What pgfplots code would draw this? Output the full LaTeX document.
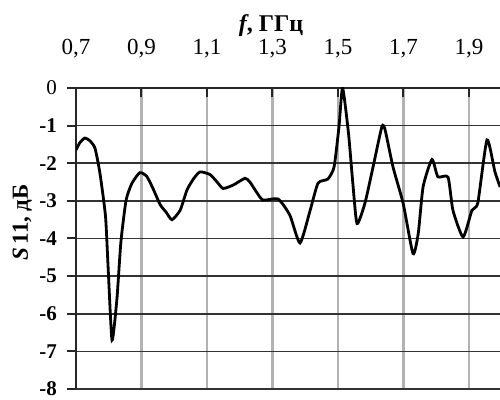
\documentclass[border=0pt]{standalone}
\usepackage{fontspec}
\setmainfont{Liberation Serif}
\usepackage{pgfplots}
\pgfplotsset{compat=1.18}
\usetikzlibrary{calc}
\begin{document}
\begin{tikzpicture}
\begin{axis}[
  name=ax, scale only axis, width=424pt, height=301pt,
  xmin=0.7, xmax=1.9947, ymin=-8, ymax=0,
  axis x line=top, axis y line=left,
  axis line style={-, black!85, line width=2pt},
  xtick={0.7,0.9,1.1,1.3,1.5,1.7,1.9},
  xticklabels={{0,7},{0,9},{1,1},{1,3},{1,5},{1,7},{1,9}},
  ytick={-8,-7,-6,-5,-4,-3,-2,-1,0},
  yticklabels={-8,-7,-6,-5,-4,-3,-2,-1,{\mdseries 0}},
  xmajorgrids, ymajorgrids,
  major x grid style={draw=black!30, line width=2.6pt},
  major y grid style={draw=black!80, line width=1.6pt},
  xtick align=inside, ytick align=outside,
  major tick length=9pt,
  every tick/.style={black!85, line width=2pt},
  xticklabel style={font=\fontsize{23}{23}\selectfont, anchor=base, yshift=33pt, inner sep=0pt},
  yticklabel style={font=\bfseries\fontsize{21}{21}\selectfont, anchor=east, inner sep=0pt, xshift=-10pt, yshift=0pt},
]
\addplot[black, line width=2.8pt, smooth, tension=0.35] coordinates {
(0.700,-1.65) (0.712,-1.45) (0.727,-1.33) (0.742,-1.40) (0.758,-1.60)
(0.773,-2.26) (0.790,-3.40) (0.798,-4.75) (0.810,-6.70) (0.825,-5.60)
(0.837,-4.10) (0.853,-2.98) (0.871,-2.53) (0.895,-2.25) (0.916,-2.35)
(0.935,-2.67) (0.957,-3.10) (0.975,-3.30) (0.993,-3.50) (1.018,-3.25)
(1.039,-2.71) (1.060,-2.40) (1.079,-2.23) (1.109,-2.30) (1.130,-2.49)
(1.149,-2.67) (1.180,-2.58) (1.216,-2.40) (1.231,-2.50) (1.250,-2.75)
(1.271,-2.98) (1.317,-2.95) (1.353,-3.38) (1.384,-4.12) (1.415,-3.25)
(1.439,-2.53) (1.469,-2.42) (1.488,-2.10) (1.503,-1.03) (1.514,0.00)
(1.532,-1.20) (1.545,-2.50) (1.558,-3.60) (1.582,-3.07) (1.607,-2.10)
(1.634,-1.03) (1.644,-1.12) (1.668,-2.10) (1.699,-3.07) (1.729,-4.40)
(1.745,-3.87) (1.760,-2.62) (1.787,-1.90) (1.805,-2.36) (1.836,-2.37)
(1.851,-3.25) (1.882,-3.96) (1.909,-3.25) (1.927,-3.05) (1.955,-1.38)
(1.979,-2.22) (1.995,-2.63)
};
\end{axis}
\node[anchor=base, font=\bfseries\fontsize{24}{24}\selectfont, inner sep=0pt] at ($(ax.north west)+(195pt,56pt)$) {\textit{f}, ГГц};
\node[rotate=90, anchor=base, font=\bfseries\fontsize{23}{23}\selectfont, inner sep=0pt] at ($(ax.west)+(-48pt,16pt)$) {\textit{S}\,11, дБ};
\pgfresetboundingbox
\path[use as bounding box] ($(ax.south west)+(-76pt,-11pt)$) rectangle ($(ax.north east)+(0pt,88pt)$);
\end{tikzpicture}
\end{document}
